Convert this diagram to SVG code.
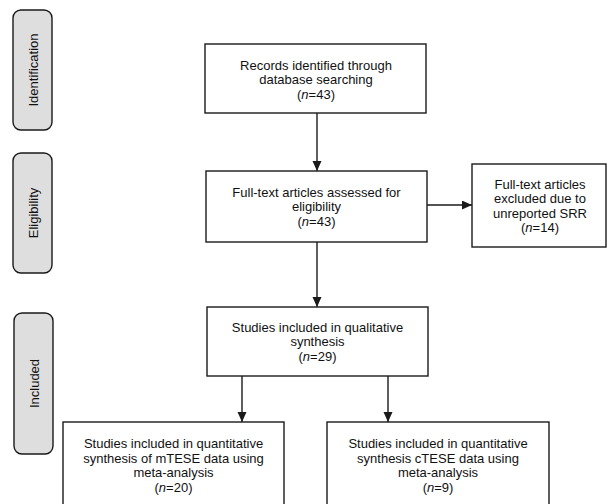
<svg xmlns="http://www.w3.org/2000/svg" width="607" height="504" viewBox="0 0 607 504">
<defs>
<style>
.box{fill:#fff;stroke:#1a1a1a;stroke-width:1.4}
.side{fill:#dedede;stroke:#1a1a1a;stroke-width:1.4}
.t{font-family:"Liberation Sans",Arial,sans-serif;font-size:13px;fill:#111;text-anchor:middle}
.s{font-family:"Liberation Sans",Arial,sans-serif;font-size:13px;fill:#111;text-anchor:middle}
.c{stroke:#1a1a1a;stroke-width:1.4;fill:none}
</style>
<marker id="ah" markerUnits="userSpaceOnUse" markerWidth="11" markerHeight="10" refX="10" refY="4.5" orient="auto">
<path d="M0,0 L10,4.5 L0,9 z" fill="#1a1a1a"/>
</marker>
</defs>
<rect width="607" height="504" fill="#fff"/>
<g id="phase-identification">
<rect class="side" x="13" y="10" width="39" height="120" rx="8"/>
<text class="s" transform="translate(37.5,70) rotate(-90)">Identification</text>
</g>
<g id="phase-eligibility">
<rect class="side" x="13" y="153" width="39" height="120" rx="8"/>
<text class="s" transform="translate(37.5,213) rotate(-90)">Eligibility</text>
</g>
<g id="phase-included">
<rect class="side" x="14" y="313" width="39" height="141" rx="8"/>
<text class="s" transform="translate(38.5,383.5) rotate(-90)">Included</text>
</g>
<g id="records">
<rect class="box" x="205" y="44" width="221" height="69"/>
<text class="t" x="316" y="69.5">Records identified through</text>
<text class="t" x="316" y="84">database searching</text>
<text class="t" x="316" y="98.5">(<tspan font-style="italic">n</tspan>=43)</text>
</g>
<g id="fulltext">
<rect class="box" x="206" y="171" width="221" height="71"/>
<text class="t" x="316.5" y="196.5">Full-text articles assessed for</text>
<text class="t" x="316.5" y="211">eligibility</text>
<text class="t" x="316.5" y="225.5">(<tspan font-style="italic">n</tspan>=43)</text>
</g>
<g id="excluded">
<rect class="box" x="472" y="164" width="134" height="83"/>
<text class="t" x="540" y="188.5">Full-text articles</text>
<text class="t" x="540" y="203">excluded due to</text>
<text class="t" x="540" y="217.5">unreported SRR</text>
<text class="t" x="540" y="232">(<tspan font-style="italic">n</tspan>=14)</text>
</g>
<g id="qualitative">
<rect class="box" x="207" y="307" width="221" height="69"/>
<text class="t" x="317.5" y="331.5">Studies included in qualitative</text>
<text class="t" x="317.5" y="346">synthesis</text>
<text class="t" x="317.5" y="360.5">(<tspan font-style="italic">n</tspan>=29)</text>
</g>
<g id="mtese">
<rect class="box" x="63" y="422" width="221" height="100"/>
<text class="t" x="173.5" y="448">Studies included in quantitative</text>
<text class="t" x="173.5" y="462.5">synthesis of mTESE data using</text>
<text class="t" x="173.5" y="477">meta-analysis</text>
<text class="t" x="173.5" y="491.5">(<tspan font-style="italic">n</tspan>=20)</text>
</g>
<g id="ctese">
<rect class="box" x="327" y="422" width="222" height="100"/>
<text class="t" x="438" y="448">Studies included in quantitative</text>
<text class="t" x="438" y="462.5">synthesis cTESE data using</text>
<text class="t" x="438" y="477">meta-analysis</text>
<text class="t" x="438" y="491.5">(<tspan font-style="italic">n</tspan>=9)</text>
</g>
<g id="connectors">
<line class="c" x1="317" y1="113" x2="317" y2="171" marker-end="url(#ah)"/>
<line class="c" x1="317" y1="242" x2="317" y2="307" marker-end="url(#ah)"/>
<line class="c" x1="427" y1="205" x2="472" y2="205" marker-end="url(#ah)"/>
<line class="c" x1="242" y1="376" x2="242" y2="422" marker-end="url(#ah)"/>
<line class="c" x1="388" y1="376" x2="388" y2="422" marker-end="url(#ah)"/>
</g>
</svg>
